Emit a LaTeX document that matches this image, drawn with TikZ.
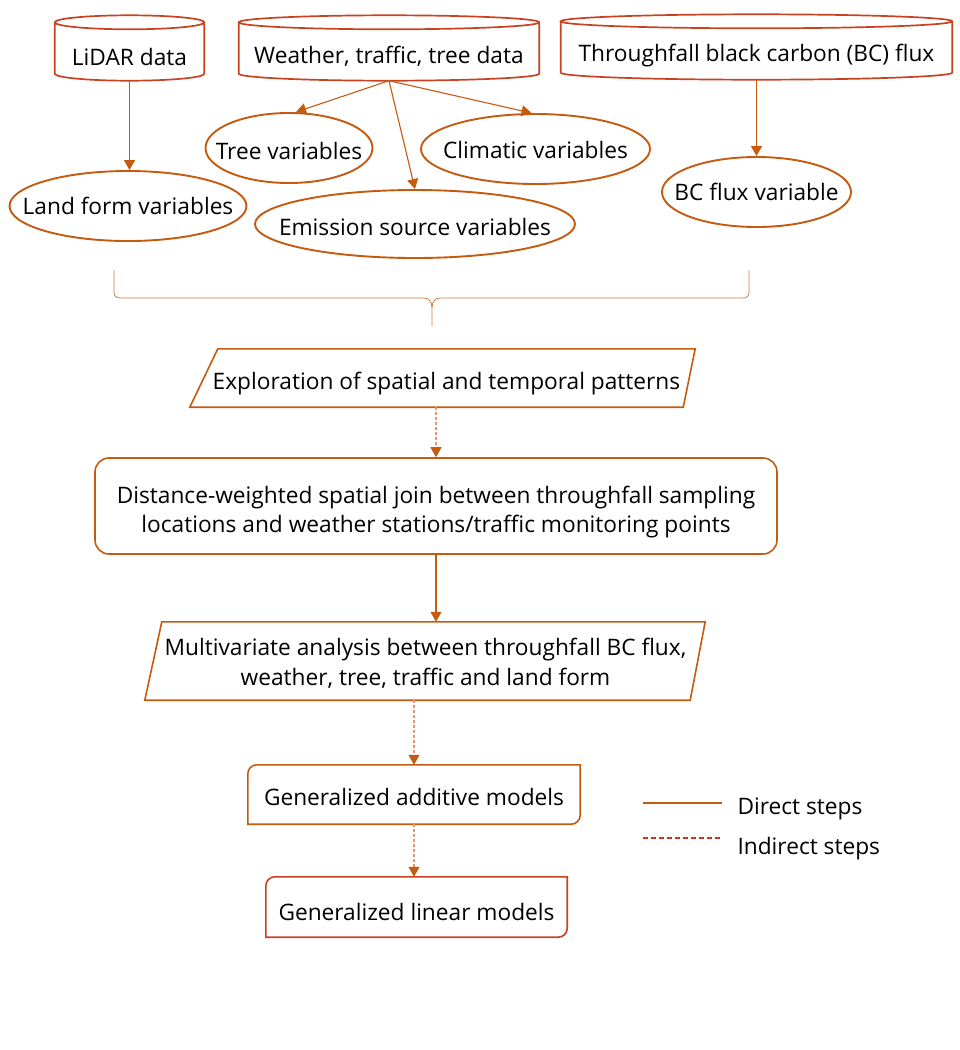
\documentclass[tikz,border=0pt]{standalone}
\usepackage{fontspec}
\setmainfont{Open Sans}
\usetikzlibrary{shapes.geometric, arrows.meta, calc}

\definecolor{flowor}{RGB}{197,90,17}
\definecolor{flowred}{RGB}{200,66,34}
\definecolor{dashor}{RGB}{228,150,110}
\definecolor{legred}{RGB}{215,45,30}

\tikzset{
	txt/.style={font=\fontsize{22.7}{29.5}\selectfont, text=black, align=center},
	store/.style={txt, rectangle, minimum height=51pt, inner sep=0pt},
	var/.style={txt, ellipse, draw=flowor, line width=1.9pt, inner sep=0pt, minimum height=70pt},
	box/.style={txt, rectangle, inner sep=0pt},
	boxline/.style={draw=flowor, line width=1.6pt},
	direct/.style={draw=flowor, line width=1.1pt, -{Triangle[width=11pt,length=10pt,color=flowor]}},
	indirect/.style={draw=dashor, line width=1.1pt, dash pattern=on 3pt off 2pt, -{Triangle[width=11pt,length=10pt,color=flowor]}}
}

% text that does not widen its ellipse
\newcommand\vartext[1]{\makebox[0pt]{#1}}
% text set a little lower in its node
\newcommand\lowered[2][4pt]{\raisebox{-#1}[\height][\depth]{#2}}
\newcommand\twolines[2]{\begin{tabular}{@{}c@{}}#1\\#2\end{tabular}}

% cylinder outline round a store node, raised above its text
\newcommand\drumline[1]{%
	\draw[flowred, line width=1.7pt] let \p1=([yshift=8pt]#1.north west), \p2=([yshift=8pt]#1.south east), \n1={(\x2-\x1)/2} in
		(\p1) -- (\x1,\y2) arc[start angle=180, end angle=360, x radius=\n1, y radius=7pt]
		-- (\x2,\y1) arc[start angle=0, end angle=360, x radius=\n1, y radius=7pt];}

\begin{document}
\begin{tikzpicture}[x=1pt, y=-1pt]
		\useasboundingbox (0,0) rectangle (960,1050);
		
		% data sources
		\node[store, minimum width=149pt] (lidar) at (129.5,56) {\lowered[1pt]{LiDAR data}};
		\node[store, minimum width=300pt] (weather) at (389,56) {Weather, traffic, tree data};
		\node[store, minimum width=391pt] (bcdata) at (756.5,55) {\lowered[1pt]{Throughfall black carbon (BC) flux}};
		\drumline{lidar}
		\drumline{weather}
		\drumline{bcdata}
		
		% variables
		\node[var, minimum width=237pt] (landform) at (128,206) {\vartext{Land form variables}};
		\node[var, minimum width=167pt] (treevar) at (289,148) {\lowered[3pt]{\vartext{Tree variables}}};
		\node[var, minimum width=229pt] (climvar) at (535.5,149) {\lowered[1pt]{\vartext{Climatic variables}}};
		\node[var, minimum width=320pt, minimum height=68pt] (emisvar) at (415,224) {\lowered[3pt]{\vartext{Emission source variables}}};
		\node[var, minimum width=189pt] (bcvar) at (756.5,192) {\vartext{BC flux variable}};
		
		\coordinate (wbot) at ([yshift=1pt]weather.south);
		\begin{scope}[direct]
		\draw ([yshift=1pt]lidar.south) -- (lidar.south |- landform.north);
		\draw (wbot) -- ([xshift=7pt]treevar.north);
		\draw (wbot) -- (emisvar.north);
		\draw (wbot) -- ([xshift=-4pt]climvar.north);
		\draw ([yshift=1pt]bcdata.south) -- (bcvar.north);
		\end{scope}
		
		% brace
		\coordinate (brtip) at (432,326);
		\draw[flowor!80, line width=0.8pt] (114,270) -- (114,292) .. controls (114,296) and (116,298) .. (121,298)
			-- (424,298) .. controls (429,298) and (432,302) .. (432,308) -- (brtip)
			(432,308) .. controls (432,302) and (435,298) .. (440,298)
			-- (743,298) .. controls (747,298) and (749,296) .. (749,292) -- (749,270);
		
		% steps
		\node[box, minimum width=485pt, minimum height=58pt] (explore) at (446.5,378)
			{\lowered[6pt]{Exploration of spatial and temporal patterns}};
		\draw[boxline] ([xshift=14pt]explore.north west) -- ([xshift=6pt]explore.north east)
			-- ([xshift=-6pt]explore.south east) -- ([xshift=-14pt]explore.south west) -- cycle;
		
		\node[box, draw=flowor, line width=1.6pt, rounded corners=14pt, minimum width=682pt, minimum height=96pt]
			(spjoin) at (436,506)
			{\lowered[6pt]{\twolines{Distance-weighted spatial join between throughfall sampling}{locations and weather stations/traffic monitoring points}}};
		
		\node[box, minimum width=544pt, minimum height=78pt] (multi) at (425.5,661)
			{\lowered[3.5pt]{\twolines{Multivariate analysis between throughfall BC flux,}{weather, tree, traffic and land form}}};
		\draw[boxline] ([xshift=8.5pt]multi.north west) -- ([xshift=7.5pt]multi.north east)
			-- ([xshift=-7.5pt]multi.south east) -- ([xshift=-8.5pt]multi.south west) -- cycle;
		
		\node[box, minimum width=332pt, minimum height=59pt] (gam) at (414,794.5) {\lowered[2.5pt]{Generalized additive models}};
		\draw[boxline] ([yshift=-9pt]gam.north west) arc[start angle=180, end angle=90, radius=9pt]
			-- (gam.north east) -- ([yshift=9pt]gam.south east) arc[start angle=0, end angle=-90, radius=9pt]
			-- (gam.south west) -- cycle;
		
		\node[box, minimum width=301pt, minimum height=60pt] (glm) at (416.5,907) {\lowered[5pt]{Generalized linear models}};
		\draw[boxline, draw=flowred] ([yshift=-9pt]glm.north west) arc[start angle=180, end angle=90, radius=9pt]
			-- (glm.north east) -- ([yshift=9pt]glm.south east) arc[start angle=0, end angle=-90, radius=9pt]
			-- (glm.south west) -- cycle;
		
		\draw[indirect] (explore.south -| spjoin.north) -- (spjoin.north);
		\draw[direct] (spjoin.south) -- (spjoin.south |- multi.north);
		\draw[indirect] (gam.north |- multi.south) -- (gam.north);
		\draw[indirect] (gam.south) -- (gam.south |- glm.north);
		
		% legend
		\node[txt, anchor=west] (legdir) at (734,809) {Direct steps};
		\node[txt, anchor=west] (legind) at (734,849) {Indirect steps};
		\coordinate (ld) at (643,803);
		\coordinate (li) at (643,838);
		\draw[flowor, line width=1.5pt] (ld) -- ++(79,0);
		\draw[legred, line width=1.3pt, dash pattern=on 5pt off 3pt] (li) -- ++(79,0);
	\end{tikzpicture}
\end{document}
